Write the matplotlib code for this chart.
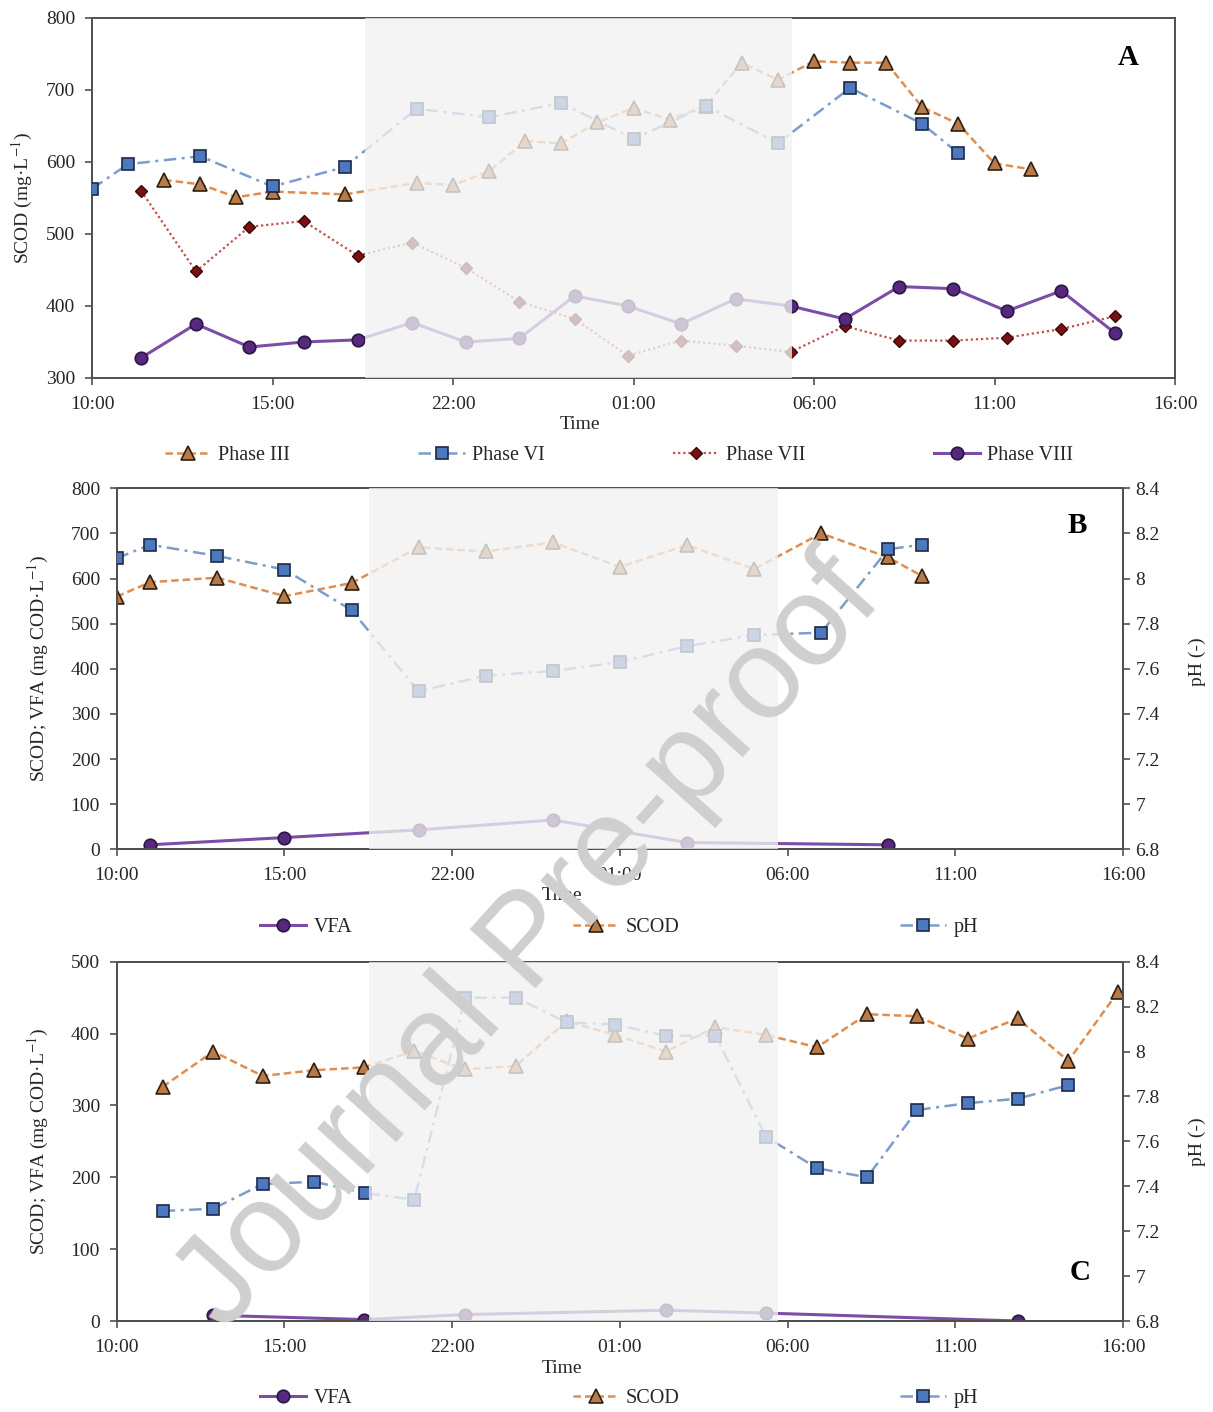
import matplotlib
matplotlib.use("Agg")
import matplotlib.pyplot as plt
from matplotlib.lines import Line2D

plt.rcParams['font.family'] = ['Liberation Serif', 'DejaVu Serif']
plt.rcParams['mathtext.fontset'] = 'stix'

# ---------------- data ----------------
x_tick_hours = [0, 5, 10, 15, 20, 25, 30]
x_tick_labels = ['10:00', '15:00', '22:00', '01:00', '06:00', '11:00', '16:00']

# Panel A (SCOD, mg/L), x = hours after 10:00
a_p3_hours = [2, 3, 4, 5, 7, 9, 10, 11, 12, 13, 14, 15, 16, 17, 18, 19, 20, 21, 22, 23, 24, 25, 26]
a_p3_scod = [575, 569, 551, 559, 555, 571, 568, 587, 629, 626, 655, 675, 659, 678, 738, 714, 740, 738, 738, 676, 653, 598, 590]

a_p6_hours = [0, 1, 3, 5, 7, 9, 11, 13, 15, 17, 19, 21, 23, 24]
a_p6_scod = [563, 597, 608, 566, 593, 674, 662, 682, 632, 678, 626, 703, 653, 612]

a_p78_hours = [1.36, 2.88, 4.36, 5.86, 7.36, 8.87, 10.35, 11.84, 13.37, 14.84,
               16.32, 17.83, 19.35, 20.85, 22.36, 23.86, 25.34, 26.85, 28.35]
a_p7_scod = [560, 448, 510, 518, 470, 488, 453, 406, 382, 331,
             352, 345, 336, 372, 352, 352, 356, 368, 386]
a_p8_scod = [328, 375, 343, 350, 353, 377, 350, 355, 414, 400,
             375, 410, 400, 382, 427, 424, 393, 421, 362]

# Panel B
b_hours = [0, 1, 3, 5, 7, 9, 11, 13, 15, 17, 19, 21, 23, 24]
b_scod = [560, 592, 602, 561, 590, 669, 660, 680, 626, 674, 621, 700, 647, 606]
b_ph = [8.09, 8.15, 8.10, 8.04, 7.86, 7.50, 7.57, 7.59, 7.63, 7.70, 7.75, 7.76, 8.13, 8.15]
b_vfa_hours = [1, 5, 9, 13, 17, 23]
b_vfa = [10, 26, 43, 65, 15, 10]

# Panel C
c_hours = [1.37, 2.88, 4.35, 5.89, 7.38, 8.87, 10.38, 11.9, 13.41, 14.87,
           16.37, 17.85, 19.36, 20.88, 22.37, 23.87, 25.37, 26.86, 28.37, 29.85]
c_scod = [326, 375, 341, 349, 353, 376, 350, 355, 417, 398,
          375, 409, 398, 381, 427, 424, 393, 421, 362, 458]
c_ph_hours = [1.37, 2.88, 4.35, 5.89, 7.41, 8.87, 10.39, 11.9, 13.41, 14.87,
              16.37, 17.85, 19.36, 20.88, 22.37, 23.87, 25.37, 26.86, 28.37]
c_ph = [7.29, 7.30, 7.41, 7.42, 7.37, 7.34, 8.24, 8.24, 8.13, 8.12,
        8.07, 8.07, 7.62, 7.48, 7.44, 7.74, 7.77, 7.79, 7.85]
c_vfa_hours = [2.88, 7.38, 10.38, 16.37, 19.36, 26.86]
c_vfa = [8, 2, 9, 15, 11, 0]

ph_ticks = [6.8, 7.0, 7.2, 7.4, 7.6, 7.8, 8.0, 8.2, 8.4]
ph_tick_labels = ['6.8', '7', '7.2', '7.4', '7.6', '7.8', '8', '8.2', '8.4']

night_a = (7.57, 19.4)
night_bc = (7.53, 19.7)

# ---------------- styles ----------------
TXT = '#262626'
SPINE = '#505050'
st_scod = dict(color='#DE8E52', ls=(0, (3.0, 1.6)), lw=1.8, marker='^', ms=9.5,
               mfc='#B87A48', mec='#2f1f10', mew=1.2)
st_ph = dict(color='#7E9CCB', ls=(0, (5, 2.2, 1.2, 2.2)), lw=1.8, marker='s', ms=8.5,
             mfc='#4B78BE', mec='#1b2a48', mew=1.2)
st_p7 = dict(color='#C0504D', ls=(0, (1, 1.3)), lw=1.6, marker='D', ms=6.5,
             mfc='#7A1010', mec='#3a0808', mew=1.0)
st_vfa = dict(color='#7B4DA6', ls='-', lw=2.2, marker='o', ms=9,
              mfc='#56297F', mec='#2a1642', mew=1.2)

TICK_FS = 14
LEG_FS = 14.5
LAB_FS = 14

W, H = 1213, 1412
fig = plt.figure(figsize=(W / 100, H / 100), dpi=100)


def rect(left, top, right, bottom):
    return [left / W, 1 - bottom / H, (right - left) / W, (bottom - top) / H]


def style_axis(ax):
    for s in ax.spines.values():
        s.set_color(SPINE)
        s.set_linewidth(1.4)
    ax.tick_params(direction='out', length=5, width=1.2, color=SPINE,
                   labelsize=TICK_FS, labelcolor=TXT)
    ax.tick_params(axis='x', pad=8)
    ax.tick_params(axis='y', pad=7)
    ax.set_xlim(0, 30)
    ax.set_xticks(x_tick_hours)
    ax.set_xticklabels(x_tick_labels)


def time_label(ax, x, y):
    ax.text(x, y, 'Time', transform=ax.transAxes, ha='center', va='center',
            fontsize=TICK_FS, color=TXT)


def add_legend(handles, labels, x0, x1, yc):
    fig.legend(handles, labels, loc='center', ncol=len(handles), mode='expand',
               bbox_to_anchor=(x0 / W, 1 - (yc + 10) / H, (x1 - x0) / W, 20 / H),
               bbox_transform=fig.transFigure, frameon=False, fontsize=LEG_FS,
               handlelength=2.3, handletextpad=0.35, borderpad=0, borderaxespad=0,
               labelcolor=TXT)


# ---------------- Panel A ----------------
axA = fig.add_axes(rect(92, 18, 1175, 378))
style_axis(axA)
axA.set_ylim(300, 800)
axA.set_yticks([300, 400, 500, 600, 700, 800])
lA3, = axA.plot(a_p3_hours, a_p3_scod, zorder=3, **st_scod)
lA6, = axA.plot(a_p6_hours, a_p6_scod, zorder=3, **st_ph)
lA7, = axA.plot(a_p78_hours, a_p7_scod, zorder=3, **st_p7)
lA8, = axA.plot(a_p78_hours, a_p8_scod, zorder=3, **st_vfa)
axA.axvspan(*night_a, color='#f2f2f2', alpha=0.78, lw=0, zorder=4)
axA.set_ylabel('SCOD (mg·L$^{-1}$)', fontsize=LAB_FS, color=TXT, va='center')
axA.yaxis.set_label_coords(-0.064, 0.5)
time_label(axA, 0.4506, -0.128)
axA.text(0.957, 0.889, 'A', transform=axA.transAxes, ha='center', va='center',
         fontsize=21, fontweight='bold', color='black')
add_legend([lA3, lA6, lA7, lA8], ['Phase III', 'Phase VI', 'Phase VII', 'Phase VIII'],
           165, 1073, 455)

# ---------------- Panel B ----------------
axB = fig.add_axes(rect(116.7, 488.3, 1123, 849.3))
style_axis(axB)
axB.set_ylim(0, 800)
axB.set_yticks(range(0, 801, 100))
lBv, = axB.plot(b_vfa_hours, b_vfa, zorder=3, **st_vfa)
lBs, = axB.plot(b_hours, b_scod, zorder=3, **st_scod)
axB2 = axB.twinx()
style_axis(axB2)
axB2.set_ylim(6.8, 8.4)
axB2.set_yticks(ph_ticks)
axB2.set_yticklabels(ph_tick_labels)
axB2.tick_params(axis='y', pad=4)
lBp, = axB2.plot(b_hours, b_ph, zorder=3, **st_ph)
axB2.axvspan(*night_bc, color='#f2f2f2', alpha=0.78, lw=0, zorder=4)
axB.set_ylabel('SCOD; VFA (mg COD·L$^{-1}$)', fontsize=LAB_FS, color=TXT, va='center')
axB.yaxis.set_label_coords(-0.078, 0.5)
axB2.set_ylabel('pH (-)', fontsize=LAB_FS, color=TXT, va='center')
axB2.yaxis.set_label_coords(1.0735, 0.52)
time_label(axB, 0.4425, -0.129)
axB2.text(0.955, 0.898, 'B', transform=axB2.transAxes, ha='center', va='center',
          fontsize=21, fontweight='bold', color='black', zorder=6)
add_legend([lBv, lBs, lBp], ['VFA', 'SCOD', 'pH'], 260, 978, 927)

# ---------------- Panel C ----------------
axC = fig.add_axes(rect(116.7, 961.7, 1123, 1321))
style_axis(axC)
axC.set_ylim(0, 500)
axC.set_yticks(range(0, 501, 100))
lCv, = axC.plot(c_vfa_hours, c_vfa, zorder=3, **st_vfa)
lCs, = axC.plot(c_hours, c_scod, zorder=3, **st_scod)
axC2 = axC.twinx()
style_axis(axC2)
axC2.set_ylim(6.8, 8.4)
axC2.set_yticks(ph_ticks)
axC2.set_yticklabels(ph_tick_labels)
axC2.tick_params(axis='y', pad=4)
lCp, = axC2.plot(c_ph_hours, c_ph, zorder=3, **st_ph)
axC2.axvspan(*night_bc, color='#f2f2f2', alpha=0.78, lw=0, zorder=4)
axC.set_ylabel('SCOD; VFA (mg COD·L$^{-1}$)', fontsize=LAB_FS, color=TXT, va='center')
axC.yaxis.set_label_coords(-0.078, 0.5)
axC2.set_ylabel('pH (-)', fontsize=LAB_FS, color=TXT, va='center')
axC2.yaxis.set_label_coords(1.0735, 0.5)
time_label(axC, 0.4425, -0.131)
axC2.text(0.957, 0.136, 'C', transform=axC2.transAxes, ha='center', va='center',
          fontsize=21, fontweight='bold', color='black', zorder=6)
add_legend([lCv, lCs, lCp], ['VFA', 'SCOD', 'pH'], 260, 978, 1398)

# ---------------- watermark ----------------
fig.text(0.437, 0.331, 'Journal Pre-proof', rotation=48, rotation_mode='anchor',
         ha='center', va='center', fontsize=92, color='#cfcfcf',
         family=['Liberation Sans', 'DejaVu Sans'], zorder=100)

fig.savefig('out.png', dpi=100, facecolor='white')
